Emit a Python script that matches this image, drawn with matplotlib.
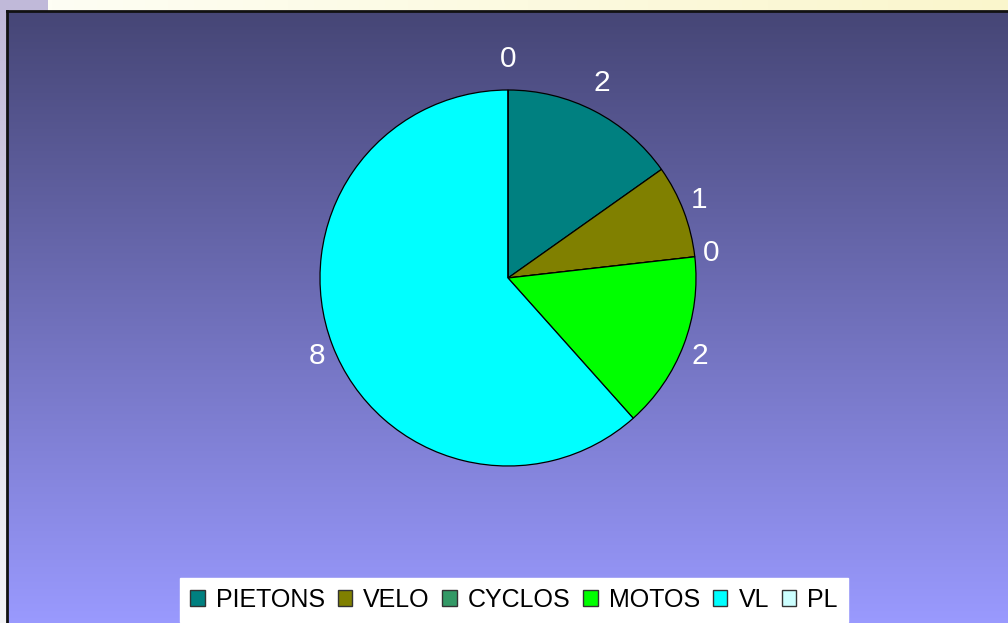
import numpy as np
import matplotlib
matplotlib.use("Agg")
import matplotlib.pyplot as plt
from matplotlib.colors import LinearSegmentedColormap
from matplotlib.patches import Rectangle

plt.rcParams['font.family'] = ['Liberation Sans', 'DejaVu Sans']

categories = ["PIETONS", "VELO", "CYCLOS", "MOTOS", "VL", "PL"]
values = [1.9, 1.0, 0.0, 1.9, 7.7, 0.0]
colors = ["#008080", "#808000", "#339966", "#00FF00", "#00FFFF", "#CCFFFF"]

W, H = 1008, 623
fig = plt.figure(figsize=(W / 100, H / 100), dpi=100)
fig.patch.set_facecolor("white")

# slide decoration: top yellow strip and left lavender strip
deco = fig.add_axes([0, 0, 1, 1])
deco.set_xlim(0, W)
deco.set_ylim(H, 0)
deco.axis("off")
ystrip = np.linspace(0, 1, 256).reshape(-1, 1)
lav = LinearSegmentedColormap.from_list("lav", ["#c0b8d8", "#f4f4f7"])
deco.imshow(ystrip, cmap=lav, extent=[0, 8, H, 0], aspect="auto")
deco.add_patch(Rectangle((0, 0), 48, 11, color="#c0b9d9", lw=0))
xstrip = np.linspace(0, 1, 256).reshape(1, -1)
yel = LinearSegmentedColormap.from_list("yel", ["#fefef4", "#faf6cc"])
deco.imshow(xstrip, cmap=yel, extent=[48, W, 11, 0], aspect="auto")

# chart area with vertical gradient (right and bottom edges run off the image)
bg = fig.add_axes([7 / W, -4 / H, (W - 7 + 6) / W, (H - 11 + 4) / H])
grad = LinearSegmentedColormap.from_list("bg", ["#464676", "#9a9aff"])
bg.imshow(np.linspace(0, 1, 256).reshape(-1, 1), cmap=grad, extent=[0, 1, 0, 1], aspect="auto", origin="upper")
bg.set_xlim(0, 1)
bg.set_ylim(0, 1)
bg.set_xticks([])
bg.set_yticks([])
for s in bg.spines.values():
    s.set_linewidth(2)
    s.set_edgecolor("#111111")

# pie
R = 188
cx, cy = 508, H - 278
half = 1.5 * R
ax = fig.add_axes([(cx - half) / W, (cy - half) / H, 2 * half / W, 2 * half / H])
ax.patch.set_alpha(0)
wedges, _ = ax.pie(values, colors=colors, startangle=90, counterclock=False,
                   radius=1.0, wedgeprops=dict(edgecolor="black", linewidth=0.9))
ax.set_xlim(-1.5, 1.5)
ax.set_ylim(-1.5, 1.5)
ax.set_aspect("equal")
ax.axis("off")

for w, v in zip(wedges, values):
    th = np.deg2rad((w.theta1 + w.theta2) / 2)
    x = 1.09 * np.cos(th)
    y = 1.165 * np.sin(th)
    ax.text(x, y, f"{v:.0f}", ha="center", va="center", color="white", fontsize=21.5)

leg = fig.legend(wedges, categories, loc="upper center", bbox_to_anchor=(514 / W, 45 / H),
                 ncol=6, fontsize=18, frameon=True, fancybox=False, framealpha=1,
                 facecolor="white", edgecolor="white", handlelength=0.58, handleheight=0.58,
                 handletextpad=0.45, columnspacing=0.5, borderpad=0.4, borderaxespad=0)
for h in leg.legend_handles:
    h.set_edgecolor("#333333")
    h.set_linewidth(1.0)

fig.savefig("out.png", dpi=100)
